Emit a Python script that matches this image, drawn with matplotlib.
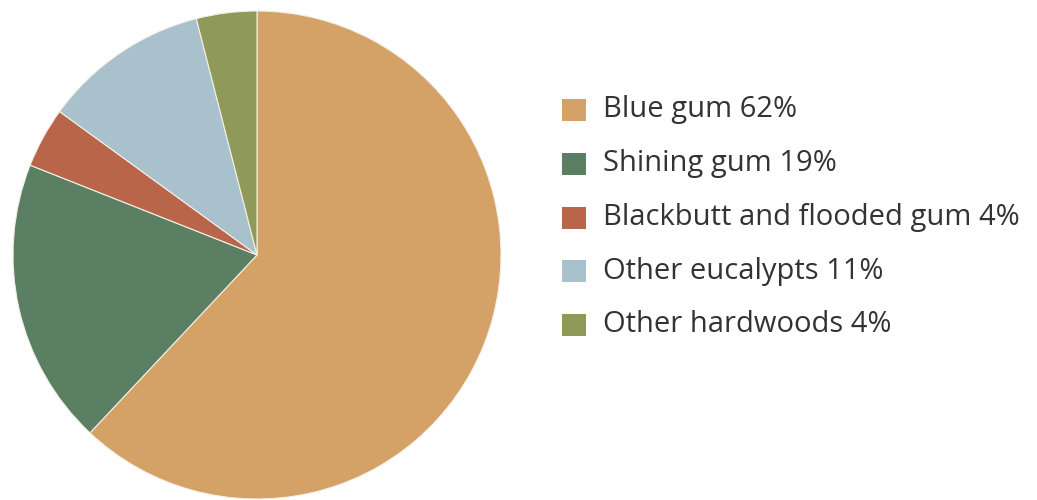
import matplotlib
matplotlib.use("Agg")
import matplotlib.pyplot as plt
from matplotlib.patches import Rectangle

species = ["Blue gum", "Shining gum", "Blackbutt and flooded gum",
           "Other eucalypts", "Other hardwoods"]
shares = [62, 19, 4, 11, 4]
colors = ["#D4A266", "#5A7F62", "#B8654A", "#A9C1CC", "#8F9A5A"]

W, H = 1037, 500
fig = plt.figure(figsize=(W / 100, H / 100), dpi=100)

# pie: centre ~(257, 255) px, radius ~244 px
cx, cy, r = 257, 255, 244
ax = fig.add_axes([(cx - r) / W, (H - cy - r) / H, 2 * r / W, 2 * r / H])
ax.pie(shares, colors=colors, startangle=90, counterclock=False,
       radius=1, wedgeprops=dict(edgecolor="#f4efe6", linewidth=0.8))
ax.set_xlim(-1, 1)
ax.set_ylim(-1, 1)
ax.set_aspect("equal")
ax.axis("off")

# legend, drawn by hand in pixel positions
row_y = [110, 164, 218, 271, 325]
for name, pct, col, y in zip(species, shares, colors, row_y):
    fig.add_artist(Rectangle((562 / W, (H - y - 11) / H), 24 / W, 22 / H,
                             transform=fig.transFigure, color=col, lw=0))
    fig.text(603 / W, (H - y) / H, f"{name} {pct}%", fontsize=21,
             family="Open Sans", color="#333333", va="center", ha="left")

fig.savefig("out.png", dpi=100)
